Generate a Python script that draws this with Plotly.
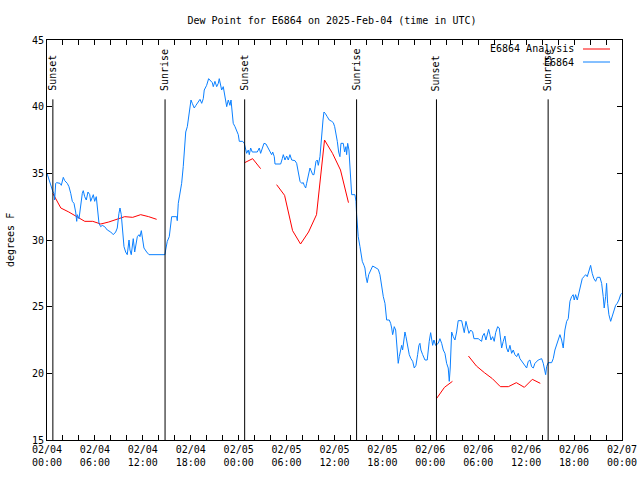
import pandas as pd
import plotly.graph_objects as go

BASE = pd.Timestamp("2025-02-04 00:00")

# Observed dew point (E6864): hours since 02/04 00:00 UTC, degrees F
obs_hours = [0.00,0.25,0.54,0.75,0.88,0.96,1.09,1.21,1.63,1.79,2.04,2.22,2.54,2.75,2.97,3.17,3.38,3.59,3.72,3.79,
             4.01,4.22,4.42,4.54,4.72,4.92,5.13,5.35,5.47,5.80,5.97,6.17,6.30,6.51,6.72,6.92,7.22,7.55,7.98,8.30,
             8.60,8.80,9.01,9.14,9.30,9.52,9.64,9.85,10.05,10.27,10.39,10.55,10.68,10.80,10.98,11.14,11.31,11.52,11.64,11.81,
             11.98,12.14,12.48,12.77,14.65,14.77,14.86,15.06,15.31,15.49,15.61,16.24,16.31,16.44,16.65,16.86,17.06,17.19,17.37,17.57,
             17.82,18.03,18.19,18.44,18.65,18.94,19.16,19.37,19.57,19.69,19.99,20.24,20.50,20.70,20.82,21.03,21.25,21.45,21.57,21.75,
             21.87,22.07,22.20,22.37,22.50,22.70,22.91,23.04,23.20,23.32,23.54,23.75,23.95,24.08,24.50,24.70,24.79,25.00,25.20,25.33,
             25.50,25.70,26.33,26.58,26.75,27.01,27.17,27.42,27.71,27.92,28.13,28.26,28.46,28.55,29.26,29.46,29.59,29.80,30.01,30.21,
             30.42,30.64,31.05,31.26,31.46,31.68,31.89,32.09,32.21,32.39,32.51,32.72,32.93,33.14,33.27,33.43,33.55,33.68,33.84,33.97,
             34.18,34.30,34.43,34.56,34.68,34.84,35.09,35.34,35.65,35.85,36.02,36.18,36.35,36.52,36.68,36.81,37.10,37.27,37.43,37.52,
             37.65,37.81,37.94,38.06,38.15,38.56,38.69,38.77,38.85,38.97,39.19,39.31,39.48,39.69,39.81,39.94,40.10,40.28,40.53,40.78,
             41.07,41.48,41.69,41.90,42.11,42.32,42.53,42.86,43.03,43.16,43.28,43.36,43.48,43.66,43.78,43.98,44.11,44.28,44.41,44.53,
             44.70,44.82,44.95,45.16,45.36,45.57,45.79,45.99,46.20,46.41,46.57,46.70,46.82,47.04,47.33,47.61,47.74,47.86,48.04,48.16,
             48.29,48.45,48.66,48.99,49.20,49.42,49.62,49.83,50.04,50.24,50.37,50.49,50.58,50.67,50.87,51.08,51.29,51.49,51.92,52.12,
             52.25,52.46,52.62,52.83,53.05,53.30,53.46,54.00,54.21,54.42,54.55,54.75,54.96,55.13,55.30,55.46,55.59,55.80,56.00,56.18,
             56.43,56.63,56.80,56.93,57.13,57.34,57.55,57.75,57.97,58.18,58.38,58.59,58.81,59.01,59.22,59.43,59.63,59.85,60.06,60.26,
             60.47,60.68,60.89,61.10,61.31,61.51,61.72,61.94,62.14,62.26,62.44,62.56,62.76,63.19,63.39,63.60,63.81,64.02,64.23,64.44,
             64.64,64.85,65.07,65.27,65.48,65.69,65.89,66.02,66.19,66.40,66.61,66.82,67.02,67.23,67.45,67.65,67.86,68.07,68.27,68.48,
             68.70,68.90,69.24,69.45,69.65,69.77,69.95,70.07,70.20,70.36,70.58,70.78,70.99,71.20,71.40,71.61,71.83,71.95]
obs_values = [35.0,34.5,34.0,33.6,33.5,33.0,34.25,34.3,34.25,34.1,34.7,34.45,34.25,34.0,33.5,32.9,32.75,32.1,31.4,31.9,
              31.6,32.75,33.5,33.7,33.25,33.0,33.6,33.4,32.9,33.4,32.9,33.25,32.25,31.25,31.0,31.1,31.0,30.75,30.6,30.4,
              30.6,30.9,32.0,32.4,31.9,30.25,29.5,29.1,28.9,30.0,29.25,28.9,29.6,30.1,29.1,29.6,30.25,30.4,30.25,30.7,
              30.0,29.4,29.1,28.9,28.9,28.9,29.25,29.9,30.25,31.0,31.75,31.75,31.45,32.75,33.5,34.25,35.5,36.75,38.1,38.5,
              39.5,40.5,40.25,39.9,40.1,40.4,40.55,40.25,40.6,41.25,41.6,42.1,41.9,41.8,41.5,41.9,41.5,41.75,42.1,41.6,
              41.25,41.5,41.0,40.5,40.0,40.5,40.1,40.5,39.5,38.75,38.5,38.25,37.9,37.4,37.4,37.25,37.0,36.5,36.75,36.4,
              36.9,36.6,36.6,36.9,36.5,37.1,37.25,37.2,36.9,36.6,36.4,36.6,36.25,35.7,35.7,36.1,36.4,36.0,36.3,36.0,
              36.4,36.0,35.95,35.75,35.1,34.4,34.25,34.3,34.1,33.9,34.25,34.9,35.4,35.1,34.9,34.9,35.4,35.9,36.0,35.6,
              36.25,37.25,38.0,39.0,39.6,39.5,39.25,39.0,38.9,38.8,38.5,38.0,37.4,36.6,36.25,37.25,37.25,36.6,37.0,36.4,
              37.25,36.75,35.5,34.6,33.4,33.4,32.9,31.9,31.1,30.25,29.5,28.9,28.4,28.1,27.9,27.25,26.8,27.4,27.75,28.05,
              27.95,27.8,27.4,26.5,25.75,25.25,24.0,24.0,23.75,23.4,22.9,23.1,23.5,23.25,22.0,20.75,21.25,21.9,22.1,21.75,
              22.5,23.1,22.75,22.0,21.4,21.1,20.9,20.4,20.6,21.4,22.1,22.25,21.75,21.4,21.0,21.0,22.0,22.4,23.05,22.6,
              22.1,22.5,22.1,22.25,22.6,22.25,21.75,21.5,20.75,20.4,19.4,20.4,22.1,23.1,22.75,22.5,23.1,23.95,23.95,23.5,
              23.05,23.9,23.4,23.0,23.25,23.1,22.6,22.6,22.5,22.4,22.8,23.0,22.5,22.9,23.3,22.9,22.5,22.75,22.4,23.05,
              23.5,23.4,22.6,21.9,22.4,22.8,21.9,21.6,22.1,21.5,21.75,21.4,21.25,21.5,21.1,20.9,20.75,20.6,20.4,20.9,
              21.0,20.5,20.4,20.75,20.9,21.0,21.05,21.1,20.75,20.4,19.9,20.5,20.8,20.8,21.1,21.75,22.1,22.6,22.9,22.5,
              21.9,23.25,23.9,24.1,25.4,25.75,25.9,25.5,25.9,25.5,26.0,26.5,27.1,27.25,27.4,27.25,27.6,28.1,27.5,27.1,
              26.9,27.2,27.2,26.75,25.75,24.9,25.75,26.75,25.25,24.4,23.9,24.25,24.75,25.1,25.25,25.5,25.9,26.0]

# Analysis (hourly, night-time only): hours since 02/04 00:00 UTC, degrees F (None = gap)
ana_hours = [0.73,1.73,2.73,3.73,4.73,5.73,6.73,7.73,8.73,9.73,10.73,11.73,12.73,13.73,14.73,
             24.75,25.75,26.75,27.75,28.75,29.75,30.75,31.75,32.75,33.75,34.75,35.75,36.75,37.75,38.75,
             48.77,49.77,50.77,51.77,52.77,53.77,54.77,55.77,56.77,57.77,58.77,59.77,60.77,61.77]
ana_values = [33.5,32.4,32.1,31.75,31.4,31.4,31.2,31.35,31.55,31.75,31.7,31.9,31.75,31.55,None,
              35.8,36.1,35.35,None,34.15,33.35,30.7,29.7,30.6,31.9,37.5,36.5,35.25,32.8,None,
              18.1,18.95,19.4,None,21.3,20.55,20.05,19.6,19.0,19.0,19.3,18.95,19.55,19.25]

sun_events = ["Sunset", "Sunrise", "Sunset", "Sunrise", "Sunset", "Sunrise"]
sun_times = ["2025-02-04 00:44", "2025-02-04 14:47", "2025-02-05 00:45",
             "2025-02-05 14:46", "2025-02-06 00:46", "2025-02-06 14:45"]

tick_hours = [0, 6, 12, 18, 24, 30, 36, 42, 48, 54, 60, 66, 72]
tick_labels = ["02/04<br>00:00", "02/04<br>06:00", "02/04<br>12:00", "02/04<br>18:00",
               "02/05<br>00:00", "02/05<br>06:00", "02/05<br>12:00", "02/05<br>18:00",
               "02/06<br>00:00", "02/06<br>06:00", "02/06<br>12:00", "02/06<br>18:00",
               "02/07<br>00:00"]


def to_time(hours):
    return [BASE + pd.Timedelta(hours=h) for h in hours]


FONT = "DejaVu Sans Mono"
RED = "#ff0000"
BLUE = "#0a80ff"

W, H = 640, 480
PL, PT, PR, PB = 47, 40, 622, 440  # plot-area edges in pixels

fig = go.Figure()
fig.add_trace(go.Scatter(x=to_time(ana_hours), y=ana_values, mode="lines",
                         line=dict(color=RED, width=1), name="E6864 Analysis",
                         connectgaps=False))
fig.add_trace(go.Scatter(x=to_time(obs_hours), y=obs_values, mode="lines",
                         line=dict(color=BLUE, width=1), name="E6864"))


def px(x):
    return (x - PL) / (PR - PL)


def py(y):
    return (PB - y) / (PB - PT)


for ev, t in zip(sun_events, sun_times):
    fig.add_shape(type="line", xref="x", yref="y", x0=t, x1=t, y0=15, y1=40.55,
                  line=dict(color="black", width=1))
    fig.add_annotation(x=t, xref="x", y=py(93), yref="paper", text=ev, textangle=-90,
                       showarrow=False, xanchor="center", yanchor="bottom",
                       font=dict(family=FONT, size=10, color="black"))

# key (text right-aligned, sample line to its right, gnuplot style)
for i, (name, col) in enumerate([("E6864 Analysis", RED), ("E6864", BLUE)]):
    ypx = 49 + 13 * i
    fig.add_annotation(x=px(576), xref="paper", y=py(ypx), yref="paper", text=name,
                       showarrow=False, xanchor="right", yanchor="middle",
                       font=dict(family=FONT, size=10, color="black"))
    fig.add_shape(type="line", xref="paper", yref="paper",
                  x0=px(583), x1=px(610), y0=py(ypx), y1=py(ypx),
                  line=dict(color=col, width=1))

fig.add_annotation(x=px(10), xref="paper", y=0.5, yref="paper", text="degrees F",
                   textangle=-90, showarrow=False, xanchor="center", yanchor="middle",
                   font=dict(family=FONT, size=10, color="black"))

minor_vals = to_time(list(range(0, 73, 2)))

fig.update_layout(
    width=W, height=H,
    margin=dict(l=PL, r=W - PR, t=PT, b=H - PB, autoexpand=False),
    paper_bgcolor="white", plot_bgcolor="white",
    showlegend=False,
    font=dict(family=FONT, size=10, color="black"),
    title=dict(text="Dew Point for E6864 on 2025-Feb-04 (time in UTC)",
               x=332 / W, xanchor="center", y=1 - 20 / H, yanchor="middle",
               font=dict(family=FONT, size=10, color="black")),
    xaxis=dict(range=[BASE, BASE + pd.Timedelta(hours=72)], automargin=False,
               tickmode="array", tickvals=to_time(tick_hours), ticktext=tick_labels,
               ticks="inside", ticklen=5, tickcolor="black",
               minor=dict(tickmode="array", tickvals=minor_vals, ticks="inside",
                          ticklen=5, tickcolor="black"),
               showline=True, linecolor="black", linewidth=1, mirror="ticks",
               showgrid=False, zeroline=False,
               tickfont=dict(family=FONT, size=10, color="black")),
    yaxis=dict(range=[15, 45], tickmode="linear", tick0=15, dtick=5, automargin=False,
               ticks="inside", ticklen=5, tickcolor="black",
               showline=True, linecolor="black", linewidth=1, mirror="ticks",
               showgrid=False, zeroline=False,
               tickfont=dict(family=FONT, size=10, color="black")),
)

fig.write_html("out.html", config={"displayModeBar": False},
               post_script="document.body.style.margin='0px';document.body.style.overflow='hidden';")
